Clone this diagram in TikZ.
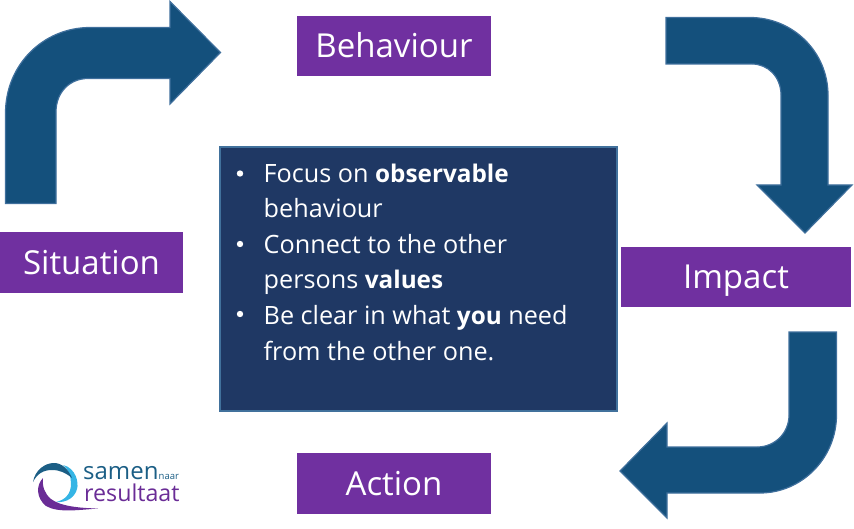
\documentclass[tikz,border=0pt]{standalone}
\usepackage{fontspec}
\setmainfont{Open Sans}
\definecolor{arrowfill}{HTML}{14507C}
\definecolor{arrowline}{HTML}{3F6F9C}
\definecolor{boxpurple}{HTML}{7030A0}
\definecolor{navy}{HTML}{1F3864}
\definecolor{navyline}{HTML}{41719C}
\definecolor{logoblue}{HTML}{1B5E85}
\definecolor{logocyan}{HTML}{35B5E5}
\definecolor{logopurple}{HTML}{6A2C96}
\newcommand{\bfword}[1]{{\fontsize{24.3}{30}\selectfont\bfseries #1}}
\tikzset{
  bentarrow/.style={fill=arrowfill,draw=arrowline,line width=1.2pt,line join=miter},
  purplebox/.style={fill=boxpurple,text=white,inner sep=0pt,font=\fontsize{33}{38}\selectfont,anchor=center,text height=24pt,text depth=0pt},
}
\begin{document}
\begin{tikzpicture}[x=1pt,y=-1pt]
\useasboundingbox (0,0) rectangle (854,529);
% arrows
\draw[bentarrow] (5.5,203.5) -- (5.5,113) .. controls (5.5,65) and (43,27.5) .. (90,27.5) -- (170,27.5) -- (170,1.5) -- (220.5,52.5) -- (170,104) -- (170,78.5) -- (88,78.5) .. controls (70,78.5) and (56,92) .. (56,112) -- (56,203.5) -- cycle;
\draw[bentarrow] (666,17.5) -- (750,17.5) .. controls (793,17.5) and (828,52) .. (828,95) -- (828,185) -- (852,185) -- (805,233) -- (757,185) -- (781,185) -- (781,95) .. controls (781,77) and (768,64) .. (752,64) -- (666,64) -- cycle;
\draw[bentarrow] (836.5,332) -- (836.5,415) .. controls (836.5,458) and (802,493) .. (760,493) -- (667,493) -- (667,518) -- (620,471) -- (667,423) -- (667,447) -- (757,447) .. controls (775,447) and (789,433) .. (789,415) -- (789,332) -- cycle;
% labels
\node[purplebox,minimum width=194pt,minimum height=60pt] (behaviour) at (394,46) {Behaviour};
\node[purplebox,minimum width=183pt,minimum height=61pt] (situation) at (91.5,262.5) {Situation};
\node[purplebox,minimum width=230pt,minimum height=60pt] (impact) at (736,277) {Impact};
\node[purplebox,minimum width=194pt,minimum height=61pt] (action) at (394,483.5) {Action};
% centre box
\node[fill=navy,draw=navyline,line width=2pt,minimum width=397pt,minimum height=264pt,inner sep=0pt] (centre) at (418,279) {};
\begin{scope}[every node/.style={text=white,inner sep=0pt,anchor=base west,font=\fontsize{25.2}{30}\selectfont}]
\node (b1) at (263.5,183) {Focus on \bfword{observable}};
\node (b1b) at (263.5,218) {behaviour};
\node (b2) at (263.5,254) {Connect to the other};
\node (b2b) at (263.5,289) {persons \bfword{values}};
\node (b3) at (263.5,324) {Be clear in what \bfword{you} need};
\node (b3b) at (263.5,360) {from the other one.};
\end{scope}
\fill[white] (240,173.5) circle (3.2pt) (240,244) circle (3.2pt) (240,314) circle (3.2pt);
% logo
\fill[logocyan] (63,465) .. controls (76,468) and (79,483) .. (77,489) .. controls (75,497) and (67,503) .. (56,502) .. controls (65,500) and (71,494) .. (71,484) .. controls (71,477) and (69,470) .. (63,465) -- cycle;
\fill[logoblue] (33,482) .. controls (35,470) and (45,463) .. (54,463) .. controls (62,463) and (68,469) .. (72,478) .. controls (66,473) and (60,470) .. (52,470) .. controls (43,470) and (37,474) .. (33,482) -- cycle;
\fill[logopurple] (43,478) .. controls (36,485) and (36,498) .. (46,506) .. controls (58,513) and (78,510) .. (98,508.5) .. controls (78,508) and (60,506) .. (51,499) .. controls (45,494) and (42,487) .. (43,478) -- cycle;
\node[inner sep=0pt,anchor=base west,text=logoblue,font=\fontsize{24}{26}\selectfont] (samen) at (83,479) {samen};
\node[inner sep=0pt,anchor=base west,text=logoblue,font=\fontsize{9.5}{11}\selectfont] (naar) at (158.5,479) {naar};
\node[inner sep=0pt,anchor=base west,text=logopurple,font=\fontsize{23.2}{26}\selectfont] (resultaat) at (84,501.5) {resultaat};
\end{tikzpicture}
\end{document}
